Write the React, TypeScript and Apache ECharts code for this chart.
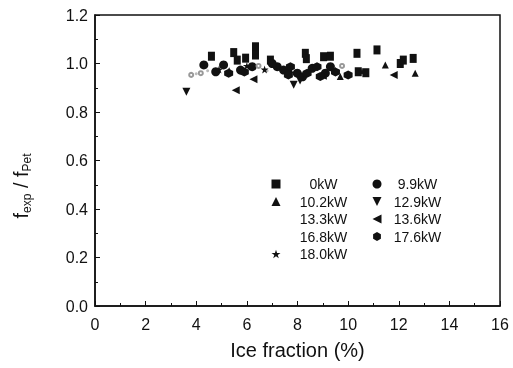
import React, { useEffect, useRef } from "react";
import * as echarts from "echarts";

// Ice fraction (%) , f_exp / f_Pet
const s0kW: number[][] = [
  [4.6, 1.03], [5.48, 1.045], [5.62, 1.014], [5.95, 1.022], [6.34, 1.069], [6.34, 1.035],
  [6.93, 1.014], [8.31, 1.042], [8.35, 1.02], [9.03, 1.028], [9.3, 1.03], [10.35, 1.042], [10.4, 0.966],
  [10.7, 0.962], [11.14, 1.056], [12.06, 1.0], [12.18, 1.014], [12.57, 1.021],
];
const s99kW: number[][] = [
  [4.3, 0.994], [4.77, 0.966], [5.08, 0.994], [5.75, 0.973], [6.21, 0.987], [7.2, 0.987],
  [7.45, 0.973], [7.99, 0.96], [8.58, 0.98], [9.1, 0.96], [9.3, 0.987], [8.2, 0.945], [7.0, 1.0],
];
const s102kW: number[][] = [
  [5.3, 0.97], [7.7, 0.975], [9.69, 0.946], [11.47, 0.994], [12.65, 0.96],
];
const s129kW: number[][] = [
  [3.61, 0.884], [7.85, 0.912], [8.1, 0.93],
];
const s133kW: number[][] = [
  [3.8, 0.953], [4.18, 0.96], [6.46, 0.99], [9.76, 0.99],
];
const s136kW: number[][] = [
  [5.56, 0.89], [6.26, 0.935], [9.0, 0.95], [11.8, 0.953],
];
const s168kW: number[][] = [
  [4.0, 0.958], [4.45, 0.97], [6.8, 0.97],
];
const s176kW: number[][] = [
  [5.28, 0.96], [5.9, 0.965], [7.64, 0.953], [7.72, 0.987], [8.38, 0.96], [8.77, 0.987],
  [8.9, 0.946], [9.5, 0.965], [10.0, 0.953],
];
const s180kW: number[][] = [
  [4.9, 0.975], [6.0, 0.99], [6.7, 0.975], [9.5, 0.97], [10.55, 0.966],
];

const xTicks = { min: 0, max: 16, interval: 2 };
const yTicks = { min: 0, max: 1.2, interval: 0.2 };

const HEX = "path://M0,-1 L0.866,-0.5 L0.866,0.5 L0,1 L-0.866,0.5 L-0.866,-0.5 Z";
const STAR =
  "path://M0,-1 L0.2245,-0.309 L0.951,-0.309 L0.363,0.118 L0.588,0.809 L0,0.382 L-0.588,0.809 L-0.363,0.118 L-0.951,-0.309 L-0.2245,-0.309 Z";
const TRI_DOWN = "path://M-1,-1 L1,-1 L0,1 Z";
const TRI_LEFT = "path://M1,-1 L1,1 L-1,0 Z";

const FONT = "'Liberation Sans', Arial, sans-serif";
const INK = "#111";

export default function App() {
  const ref = useRef<HTMLDivElement>(null);
  useEffect(() => {
    if (!ref.current) return;
    const chart = echarts.init(ref.current, null, { renderer: "svg" });
    const mk = (name: string, data: number[][], symbol: string, size: any, extra: any = {}) => ({
      name,
      type: "scatter",
      data,
      symbol,
      symbolSize: size,
      itemStyle: { color: INK, opacity: 1, ...extra },
    });
    const legendText = (sp: number) => ({
      fontFamily: FONT,
      fontSize: 14,
      color: INK,
      rich: {
        sp: { width: sp, fontSize: 14 },
        c: { width: 48, align: "center", fontSize: 14, fontFamily: FONT, color: INK },
      },
    });
    chart.setOption({
      animation: false,
      textStyle: { fontFamily: FONT },
      grid: {
        left: 95,
        right: 13,
        top: 15,
        bottom: 62,
        show: true,
        borderColor: INK,
        borderWidth: 1.5,
      },
      xAxis: {
        type: "value",
        ...xTicks,
        axisLine: { lineStyle: { color: INK, width: 1.5 } },
        axisTick: { inside: true, length: 5, lineStyle: { color: INK } },
        minorTick: { show: true, splitNumber: 2, length: 3, lineStyle: { color: INK } },
        splitLine: { show: false },
        axisLabel: { fontSize: 16, color: INK, margin: 10, fontFamily: FONT },
        name: "Ice fraction (%)",
        nameLocation: "middle",
        nameGap: 34,
        nameTextStyle: { fontSize: 20, color: INK, fontFamily: FONT },
      },
      yAxis: {
        type: "value",
        ...yTicks,
        axisLine: { show: true, lineStyle: { color: INK, width: 1.5 } },
        axisTick: { show: true, inside: true, length: 5, lineStyle: { color: INK } },
        minorTick: { show: true, splitNumber: 2, length: 3, lineStyle: { color: INK } },
        splitLine: { show: false },
        axisLabel: {
          fontSize: 16,
          color: INK,
          margin: 7,
          fontFamily: FONT,
          formatter: (v: number) => v.toFixed(1),
        },
      },
      legend: [
        {
          orient: "vertical",
          left: 265.5,
          top: 172,
          itemWidth: 9,
          itemHeight: 9,
          itemGap: 3.5,
          formatter: (n: string) => "{sp|}{c|" + n + "}",
          textStyle: legendText(14),
          data: [
            { name: "0kW" },
            { name: "10.2kW" },
            { name: "13.3kW", itemStyle: { opacity: 0 } },
            { name: "16.8kW", itemStyle: { opacity: 0 } },
            { name: "18.0kW" },
          ],
        },
        {
          orient: "vertical",
          left: 367.5,
          top: 172,
          itemWidth: 9,
          itemHeight: 9,
          itemGap: 3.5,
          formatter: (n: string) => "{sp|}{c|" + n + "}",
          textStyle: legendText(7),
          data: [{ name: "9.9kW" }, { name: "12.9kW" }, { name: "13.6kW" }, { name: "17.6kW" }],
        },
      ],
      graphic: [
        {
          type: "text",
          x: 21,
          y: 186,
          rotation: Math.PI / 2,
          style: {
            text: "{f|f}{s|exp}{f| / f}{s|Pet}",
            align: "center",
            verticalAlign: "middle",
            fill: INK,
            rich: {
              f: { fontSize: 20, fontFamily: FONT, fill: INK },
              s: { fontSize: 12, fontFamily: FONT, fill: INK, padding: [11, 0, 0, 0] },
            },
          },
        },
      ],
      series: [
        mk("0kW", s0kW, "rect", [7, 9]),
        mk("9.9kW", s99kW, "circle", 9),
        mk("10.2kW", s102kW, "triangle", 7),
        mk("12.9kW", s129kW, TRI_DOWN, 8),
        mk("13.3kW", s133kW, "emptyCircle", 4, { color: "#999", borderColor: "#999", borderWidth: 1 }),
        mk("13.6kW", s136kW, TRI_LEFT, 8),
        mk("16.8kW", s168kW, "circle", 3, { color: "#bbb" }),
        mk("17.6kW", s176kW, HEX, 9),
        mk("18.0kW", s180kW, STAR, 8),
      ],
    });
    return () => chart.dispose();
  }, []);
  return <div ref={ref} style={{ position: "fixed", left: 0, top: 0, width: 513, height: 368 }} />;
}
